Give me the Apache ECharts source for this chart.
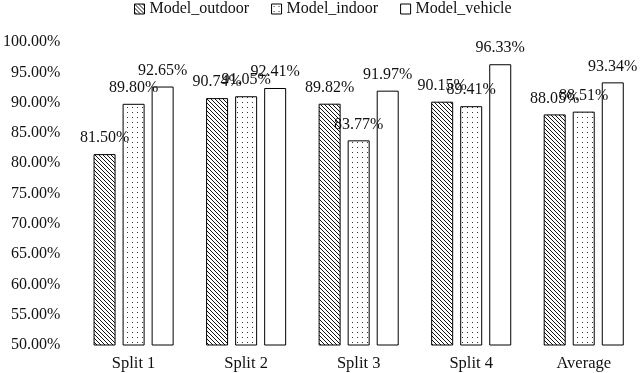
<!DOCTYPE html>
<html><head><meta charset="utf-8">
<script src="https://cdn.jsdelivr.net/npm/echarts@6/dist/echarts.min.js"></script>
<style>html,body{margin:0;padding:0;background:#fff}#c{width:640px;height:373px}</style>
</head><body><div id="c"></div>
<script>
const categories = ['Split 1','Split 2','Split 3','Split 4','Average'];
const seriesNames = ['Model_outdoor','Model_indoor','Model_vehicle'];
const outdoor = [81.50, 90.74, 89.82, 90.15, 88.05];
const indoor = [89.80, 91.05, 83.77, 89.41, 88.51];
const vehicle = [92.65, 92.41, 91.97, 96.33, 93.34];
const yTicks = {min: 50, max: 100, interval: 5};

function hatch(){
  const c = document.createElement('canvas'); c.width = 4; c.height = 4;
  const g = c.getContext('2d');
  g.fillStyle = '#fff'; g.fillRect(0,0,4,4);
  g.fillStyle = '#111';
  for (let i=0;i<4;i++){ g.fillRect(i, i, 1, 1); }
  return c;
}
function dots(){
  const c = document.createElement('canvas'); c.width = 5; c.height = 5;
  const g = c.getContext('2d');
  g.fillStyle = '#fff'; g.fillRect(0,0,5,5);
  g.fillStyle = '#333';
  g.fillRect(2, 2, 1, 1);
  return c;
}
const fills = [
  {image: hatch(), repeat: 'repeat'},
  {image: dots(), repeat: 'repeat'},
  '#fff'
];
const font = 'Liberation Serif';
const chart = echarts.init(document.getElementById('c'), null, {renderer: 'canvas'});
const datas = [outdoor, indoor, vehicle];
chart.setOption({
  animation: false,
  textStyle: {fontFamily: font},
  legend: {
    top: -4, left: 129, itemGap: 22, itemWidth: 10, itemHeight: 10,
    icon: 'rect', textStyle: {fontFamily: font, fontSize: 16, color: '#111'},
    itemStyle: {borderColor: '#000', borderWidth: 1}
  },
  grid: {left: 74, right: -1, top: 42, bottom: 28},
  xAxis: {
    type: 'category', data: categories,
    axisLine: {show: false}, axisTick: {show: false},
    axisLabel: {fontFamily: font, fontSize: 16.5, color: '#111', margin: 10}
  },
  yAxis: {
    type: 'value', min: yTicks.min, max: yTicks.max, interval: yTicks.interval,
    axisLine: {show: false}, axisTick: {show: false}, splitLine: {show: false},
    axisLabel: {fontFamily: font, fontSize: 16, color: '#111', margin: 17,
      formatter: v => v.toFixed(2) + '%'}
  },
  series: datas.map((d, i) => ({
    name: seriesNames[i], type: 'bar', data: d,
    barWidth: 22, barGap: '32%',
    itemStyle: {color: fills[i], borderColor: '#000', borderWidth: 1},
    label: {show: true, position: 'top', distance: 8, fontFamily: font, fontSize: 16, color: '#111',
      formatter: p => p.value.toFixed(2) + '%'}
  }))
});
</script></body></html>
